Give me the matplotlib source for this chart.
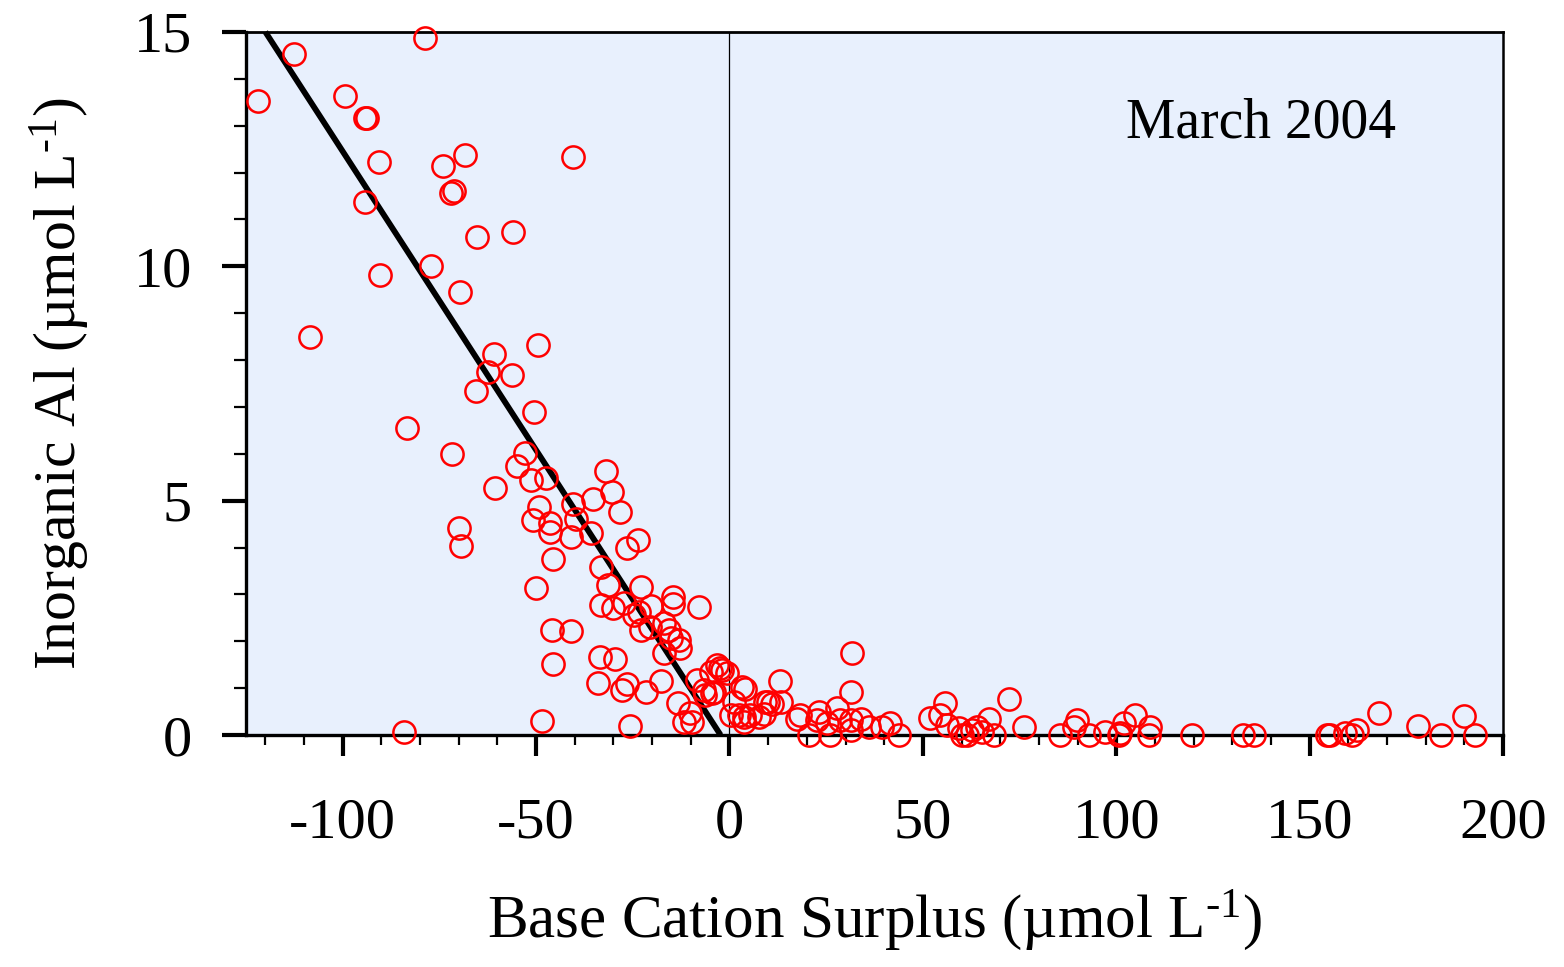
import numpy as np
import matplotlib
matplotlib.use("Agg")
import matplotlib.pyplot as plt
from matplotlib.ticker import MultipleLocator, FuncFormatter

plt.rcParams["font.family"] = ["Liberation Serif", "DejaVu Serif"]
plt.rcParams["mathtext.fontset"] = "custom"
plt.rcParams["mathtext.rm"] = "Liberation Serif"
plt.rcParams["mathtext.it"] = "Liberation Serif:italic"
plt.rcParams["axes.unicode_minus"] = False

# base cation surplus (umol/L) vs inorganic Al (umol/L), March 2004
bcs = [
    -122.0, -112.6, -78.8, -99.4, -94.3, -93.7, -90.5, -74.1, -68.5, -40.4,
    -72.1, -71.2, -94.2, -65.2, -55.9, -77.3, -90.4, -69.7, -108.5,
    -49.4, -60.8, -62.4, -56.2, -65.5, -50.5, -83.4, -71.8, -52.9, -54.9,
    -51.2, -47.4, -60.6, -32.0, -30.5, -35.4, -40.5, -28.2, -49.3, -50.7,
    -46.4, -46.3, -39.8, -35.9, -41.1, -70.0, -69.3, -26.6, -23.7, -45.7,
    -33.3, -31.3, -50.0, -22.8, -33.3, -30.1, -27.3, -24.7, -23.4, -20.4,
    -22.8, -20.6, -14.5, -14.5, -7.9, -17.0, -15.7, -15.2, -13.1, -12.7,
    -17.0, -45.8, -40.9, -45.7, -33.6, -29.7, -33.9, -27.7, -26.4, -21.7,
    -17.8, -13.4, -11.8, -9.6, -10.1, -48.4, -84.1, -25.8, -8.3,
    -3.2, -1.9, -0.6, -4.9, -4.0, -6.2, -2.5, -4.5, -6.6,
    3.3, 4.1, 1.1, 0.3, 2.4, 3.7, 5.4, 7.6, 3.7, 8.9, 10.0, 13.0,
    9.3, 11.0, 13.2, 17.5, 18.3, 23.1, 20.5, 22.7, 26.1, 25.2, 27.8, 28.7,
    31.7, 31.3, 31.3, 31.3, 33.9, 36.0, 39.5, 41.6, 43.8,
    51.9, 54.5, 55.6, 56.2, 59.3, 60.1, 61.4, 62.7, 64.0, 65.3, 67.0, 68.3,
    72.2, 76.1, 85.4, 89.8, 89.0, 92.9, 97.2, 100.6, 101.9, 101.0, 104.9,
    108.8, 108.4, 119.6, 132.9, 135.7, 154.4, 155.3, 159.2, 160.9, 162.2,
    168.0, 177.9, 183.9, 189.9, 192.8,
]
al = [
    13.53, 14.52, 14.86, 13.63, 13.16, 13.16, 12.23, 12.15, 12.37, 12.34,
    11.57, 11.61, 11.38, 10.63, 10.74, 10.01, 9.81, 9.45, 8.49,
    8.33, 8.12, 7.74, 7.67, 7.33, 6.90, 6.56, 6.00, 6.02, 5.74,
    5.44, 5.48, 5.26, 5.63, 5.18, 5.04, 4.93, 4.76, 4.87, 4.58,
    4.53, 4.34, 4.60, 4.30, 4.23, 4.41, 4.03, 3.98, 4.15, 3.75,
    3.59, 3.19, 3.14, 3.15, 2.77, 2.72, 2.81, 2.56, 2.63, 2.75,
    2.24, 2.31, 2.94, 2.80, 2.74, 2.38, 2.24, 2.06, 2.03, 1.85,
    1.74, 2.25, 2.22, 1.51, 1.66, 1.63, 1.10, 0.96, 1.09, 0.92,
    1.16, 0.68, 0.28, 0.28, 0.46, 0.30, 0.07, 0.19, 1.17,
    1.49, 1.39, 1.32, 1.35, 0.92, 0.85, 1.42, 0.89, 0.96,
    1.02, 0.98, 0.71, 0.43, 0.43, 0.39, 0.43, 0.39, 0.28, 0.45, 0.71, 1.16,
    0.71, 0.67, 0.71, 0.35, 0.43, 0.50, 0.0, 0.32, 0.0, 0.25, 0.57, 0.32,
    1.74, 0.92, 0.32, 0.11, 0.35, 0.18, 0.18, 0.25, 0.0,
    0.37, 0.43, 0.68, 0.21, 0.14, 0.0, 0.0, 0.11, 0.18, 0.07, 0.35, 0.0,
    0.77, 0.18, 0.0, 0.32, 0.18, 0.0, 0.07, 0.0, 0.25, 0.04, 0.43,
    0.18, 0.0, 0.0, 0.0, 0.0, 0.0, 0.0, 0.04, 0.0, 0.11,
    0.48, 0.19, 0.0, 0.41, 0.0,
]

# fitted line
fit_x = [-120.0, -2.3]
fit_y = [15.0, 0.0]

fig = plt.figure(figsize=(15.64, 9.67), dpi=100)
ax = fig.add_axes([0.1573, 0.2399, 0.8037, 0.7271])
ax.set_facecolor("#e8f0fd")

ax.axvline(0, color="black", lw=0.9, zorder=1)
ax.plot(fit_x, fit_y, color="black", lw=4.2, solid_capstyle="butt", zorder=3, clip_on=False)
ax.plot(bcs, al, "o", mfc="none", mec="red", ms=16, mew=1.8, zorder=4, clip_on=False)

ax.set_xlim(-125, 200)
ax.set_ylim(0, 15)
ax.xaxis.set_major_locator(MultipleLocator(50))
ax.xaxis.set_minor_locator(MultipleLocator(10))
ax.yaxis.set_major_locator(MultipleLocator(5))
ax.yaxis.set_minor_locator(MultipleLocator(1))
ax.xaxis.set_major_formatter(FuncFormatter(lambda v, p: f"{v:.0f}"))
ax.yaxis.set_major_formatter(FuncFormatter(lambda v, p: f"{v:.0f}"))

ax.tick_params(which="both", direction="out", top=False, right=False, labelsize=42)
ax.tick_params(axis="x", which="major", length=15, width=3, pad=30)
ax.tick_params(axis="x", which="minor", length=7, width=1.6)
ax.tick_params(axis="y", which="major", length=17, width=3, pad=22)
ax.tick_params(axis="y", which="minor", length=9, width=1.6)

for side in ["left", "bottom"]:
    ax.spines[side].set_linewidth(2.4)
ax.spines["top"].set_linewidth(2.0)
ax.spines["right"].set_linewidth(1.8)

ax.set_xlabel("Base Cation Surplus (µmol L$^{\\text{-1}}$)", fontsize=44, labelpad=28)
ax.set_ylabel("Inorganic Al (µmol L$^{\\text{-1}}$)", fontsize=43, labelpad=30)

ax.text(0.915, 0.87, "March 2004", transform=ax.transAxes, fontsize=40,
        ha="right", va="center")

fig.savefig("out.png", dpi=100)
